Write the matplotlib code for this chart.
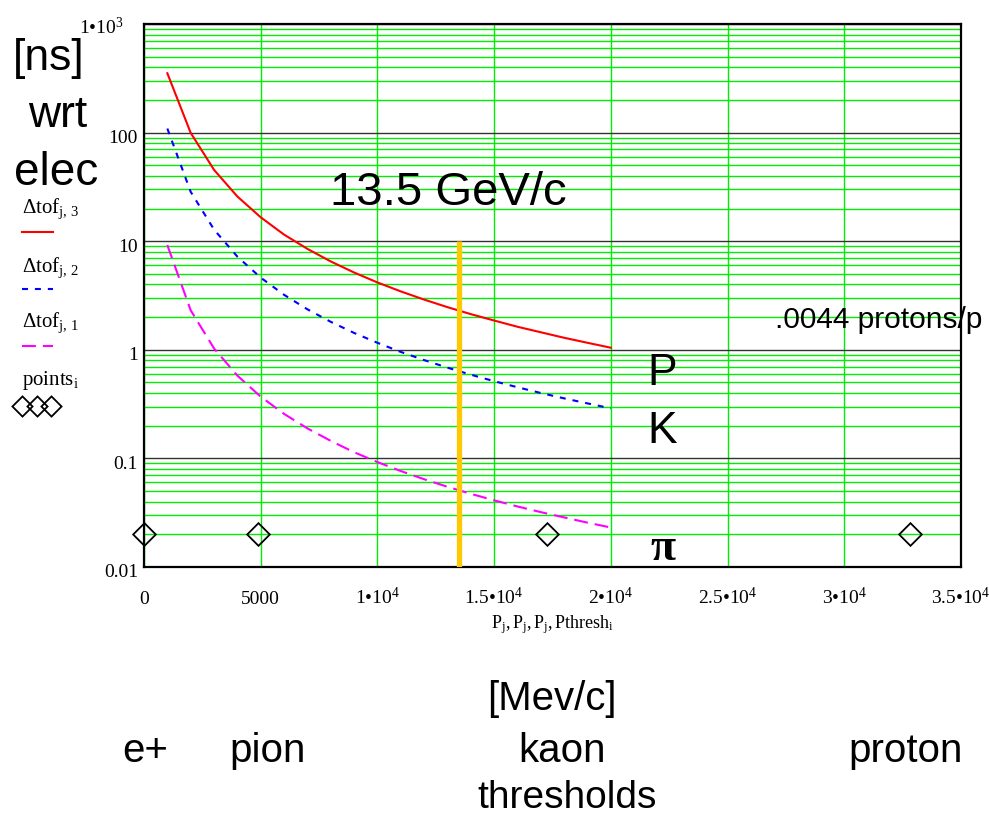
import matplotlib
matplotlib.use('Agg')
import matplotlib.pyplot as plt
from matplotlib.ticker import LogLocator, FixedLocator, NullFormatter

plt.rcParams['font.family'] = ['Liberation Sans', 'DejaVu Sans']
plt.rcParams['mathtext.fontset'] = 'custom'
plt.rcParams['mathtext.rm'] = 'Liberation Serif'
plt.rcParams['mathtext.it'] = 'Liberation Serif:italic'
plt.rcParams['lines.scale_dashes'] = False

SERIF = ['Liberation Serif', 'DejaVu Serif']

# momentum grid P_j [MeV/c]
P = [1000, 2000, 3000, 4000, 5000, 6000, 7000, 8000, 9000, 10000,
     11000, 12000, 13000, 14000, 15000, 16000, 17000, 18000, 19000, 20000]

# time of flight difference wrt electron [ns]
tof_proton = [352, 99.4, 45.4, 25.8, 16.6, 11.5, 8.50, 6.51, 5.15, 4.17,
              3.45, 2.90, 2.47, 2.13, 1.86, 1.63, 1.45, 1.29, 1.16, 1.045]
tof_kaon = [109, 28.5, 12.8, 7.21, 4.62, 3.21, 2.36, 1.81, 1.43, 1.16,
            0.956, 0.804, 0.685, 0.590, 0.514, 0.452, 0.400, 0.357, 0.321, 0.289]
tof_pion = [9.21, 2.31, 1.03, 0.578, 0.370, 0.257, 0.189, 0.145, 0.114, 0.0925,
            0.0765, 0.0643, 0.0548, 0.0472, 0.0411, 0.0361, 0.0320, 0.0286, 0.0256, 0.0231]

# cherenkov thresholds (e+, pion, kaon, proton)
p_thresh = [18, 4880, 17270, 32830]
points = [0.02, 0.02, 0.02, 0.02]

p_cut = 13500

x_ticks = [0, 5000, 10000, 15000, 20000, 25000, 30000, 35000]
x_labels = ['0', '5000', r'$\mathregular{1•10^{4}}$', r'$\mathregular{1.5•10^{4}}$',
            r'$\mathregular{2•10^{4}}$', r'$\mathregular{2.5•10^{4}}$',
            r'$\mathregular{3•10^{4}}$', r'$\mathregular{3.5•10^{4}}$']
y_ticks = [0.01, 0.1, 1, 10, 100, 1000]
y_labels = ['0.01', '0.1', '1', '10', '100', r'$\mathregular{1•10^{3}}$']

W, H = 989, 817


def fx(px):
    return px / W


def fy(py):
    return 1 - py / H


fig = plt.figure(figsize=(W / 100, H / 100), dpi=100)
ax = fig.add_axes([fx(144), fy(567), 817 / W, 543 / H])
ax.set_yscale('log')
ax.set_xlim(0, 35000)
ax.set_ylim(0.01, 1000)

# grid
ax.xaxis.set_major_locator(FixedLocator(x_ticks))
ax.yaxis.set_major_locator(FixedLocator(y_ticks))
ax.yaxis.set_minor_locator(LogLocator(base=10, subs=range(2, 10)))
ax.xaxis.set_major_formatter(NullFormatter())
ax.yaxis.set_major_formatter(NullFormatter())
ax.yaxis.set_minor_formatter(NullFormatter())
ax.tick_params(which='both', length=0)
ax.grid(which='minor', axis='y', color='#00ee00', lw=1.0)
ax.grid(which='major', axis='y', color='#333333', lw=1.0)
ax.grid(which='major', axis='x', color='#00ee00', lw=1.0)
ax.set_axisbelow(True)
for s in ax.spines.values():
    s.set_linewidth(1.6)
    s.set_color('black')

# curves
ax.plot(P, tof_proton, color='#ff0000', lw=1.5)
ax.plot(P, tof_kaon, color='#0000ff', lw=1.5, dashes=(4.3, 5))
ax.plot(P, tof_pion, color='#ff00ff', lw=1.5, dashes=(10, 5))
ax.plot(p_thresh, points, linestyle='none', marker=(4, 0, 0), ms=16.3,
        mfc='none', mec='black', mew=1.3, clip_on=False, zorder=4)
ax.vlines(p_cut, 0.01, 10, color='#ffc800', lw=3.8, zorder=5)

# tick labels
for xv, lab in zip(x_ticks, x_labels):
    ax.annotate(lab, xy=(xv, 0), xycoords=('data', 'axes fraction'),
                xytext=(0, -26.6), textcoords='offset points', ha='center',
                va='baseline', fontsize=14, family=SERIF)
for yv, lab in zip(y_ticks, y_labels):
    off = -15 if yv == 1000 else -4.3
    ax.annotate(lab, xy=(0, yv), xycoords=('axes fraction', 'data'),
                xytext=(off, -7.5), textcoords='offset points', ha='right',
                va='baseline', fontsize=14, family=SERIF)

fig.text(fx(491), fy(628), r'$\mathregular{P_{j},P_{j},P_{j},Pthresh_{i}}$',
         fontsize=13, ha='left', va='baseline', family=SERIF)

# y label block
fig.text(fx(48.5), fy(70), '[ns]', fontsize=32, ha='center', va='baseline')
fig.text(fx(57.5), fy(127), 'wrt', fontsize=32, ha='center', va='baseline')
fig.text(fx(56), fy(185), 'elec', fontsize=33, ha='center', va='baseline')

# legend
leg = [(r'$\mathregular{\Delta tof_{j,\,3}}$', 213, 231.7, '#ff0000', None),
       (r'$\mathregular{\Delta tof_{j,\,2}}$', 271.7, 289, '#0000ff', (4.3, 5)),
       (r'$\mathregular{\Delta tof_{j,\,1}}$', 326.7, 345.7, '#ff00ff', (10, 5))]
for lab, ty, ly, col, dsh in leg:
    fig.text(fx(22), fy(ty), lab, fontsize=15, ha='left', va='baseline', family=SERIF)
    ln = plt.Line2D([fx(22), fx(52.5)], [fy(ly), fy(ly)], transform=fig.transFigure,
                    color=col, lw=1.5)
    if dsh:
        ln.set_dashes(dsh)
    fig.add_artist(ln)
fig.text(fx(22), fy(385), r'$\mathregular{points_{i}}$', fontsize=15, ha='left',
         va='baseline', family=SERIF)
fig.add_artist(plt.Line2D([fx(22), fx(36.5), fx(51)], [fy(406)] * 3, transform=fig.transFigure,
                          linestyle='none', marker=(4, 0, 0), ms=14.5, mfc='none',
                          mec='black', mew=1.3))

# annotations
fig.text(fx(330), fy(205), '13.5 GeV/c', fontsize=34, ha='left', va='baseline')
fig.text(fx(775), fy(328), '.0044 protons/p', fontsize=21.5, ha='left', va='baseline')
fig.text(fx(647), fy(385), 'P', fontsize=32, ha='left', va='baseline')
fig.text(fx(647), fy(443), 'K', fontsize=32, ha='left', va='baseline')
fig.text(fx(650), fy(560), 'π', fontsize=33, ha='left', va='baseline',
         family=SERIF, weight='bold')

fig.text(fx(552), fy(710), '[Mev/c]', fontsize=29, ha='center', va='baseline')
fig.text(fx(122), fy(762), 'e+', fontsize=29, ha='left', va='baseline')
fig.text(fx(229), fy(762), 'pion', fontsize=29, ha='left', va='baseline')
fig.text(fx(518), fy(762), 'kaon', fontsize=29, ha='left', va='baseline')
fig.text(fx(848), fy(762), 'proton', fontsize=29, ha='left', va='baseline')
fig.text(fx(567), fy(808), 'thresholds', fontsize=28, ha='center', va='baseline')

fig.savefig('out.png', dpi=100)
